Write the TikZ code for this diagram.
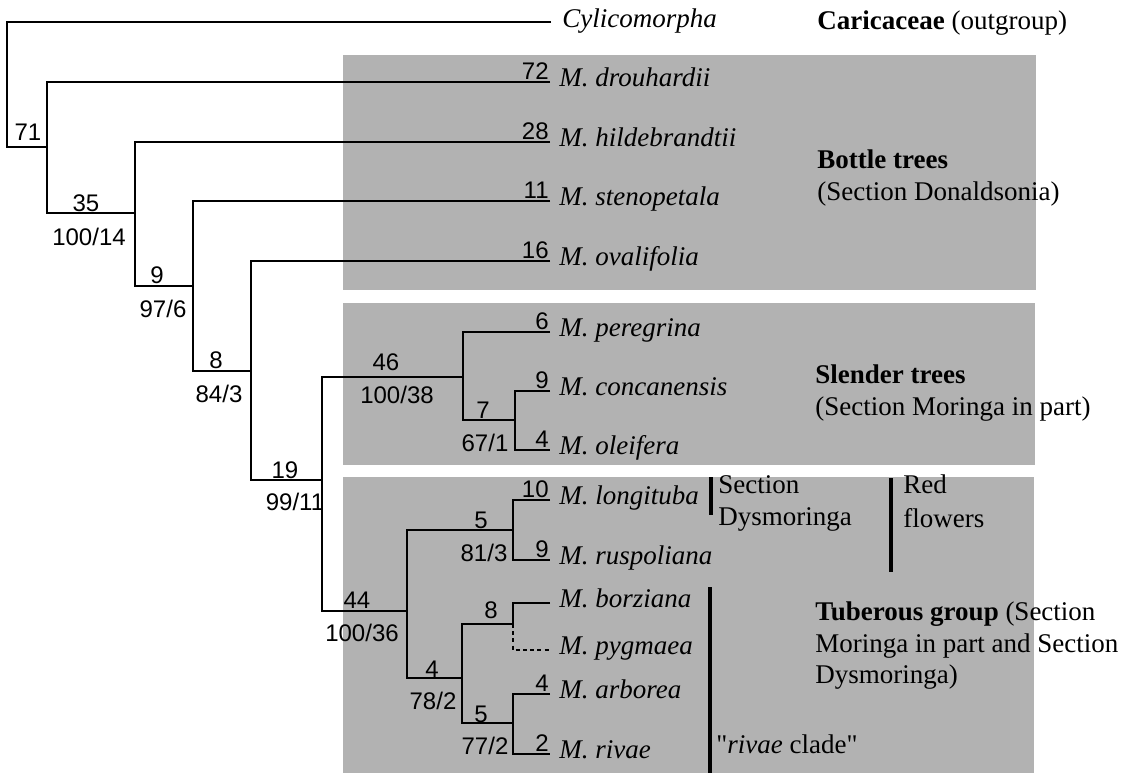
\documentclass[tikz,border=0pt]{standalone}
\usepackage{fontspec}
\setmainfont{Liberation Serif}
\newfontfamily\numfont{Liberation Sans}
\newfontfamily\rawserif[Ligatures=ResetAll]{Liberation Serif}
\begin{document}
\begin{tikzpicture}[x=0.5pt,y=-0.5pt,
  br/.style={line width=0.9pt, line join=miter},
  dbr/.style={br, dash pattern=on 2pt off 1.6pt},
  taxon/.style={font=\fontsize{13.5}{16}\selectfont\itshape, anchor=base west, inner sep=0pt},
  num/.style={font=\numfont\fontsize{12}{14}\selectfont, anchor=base, inner sep=0pt},
  tipnum/.style={num, anchor=base east},
  grp/.style={font=\fontsize{13.5}{16}\selectfont, anchor=base west, inner sep=0pt},
  grpbar/.style={line width=2pt},
  grpbox/.style={fill=black!30, draw=none}]
\useasboundingbox (0,0) rectangle (1125,773);
% shaded groups
\fill[grpbox] (343,55) rectangle (1036,290);
\fill[grpbox] (343,303) rectangle (1035,465);
\fill[grpbox] (343,477) rectangle (1034,773);
% internal nodes
\coordinate (n0) at (7,147);
\coordinate (nA) at (47,147);
\coordinate (nB) at (135,213);
\coordinate (nC) at (193,286);
\coordinate (nD) at (251,371);
\coordinate (nE) at (322,480);
\coordinate (n46) at (463,377);
\coordinate (n7) at (515,420);
\coordinate (n44) at (407,611);
\coordinate (n5a) at (513,530);
\coordinate (n4) at (462,678);
\coordinate (n8) at (513,624);
\coordinate (n5b) at (513,723);
% tips
\coordinate (tCyl) at (551,22);
\coordinate (tDro) at (550,82);
\coordinate (tHil) at (550,142);
\coordinate (tSte) at (550,201);
\coordinate (tOva) at (550,261);
\coordinate (tPer) at (550,332);
\coordinate (tCon) at (550,391);
\coordinate (tOle) at (550,450);
\coordinate (tLon) at (550,500);
\coordinate (tRus) at (550,560);
\coordinate (tBor) at (550,603);
\coordinate (tPyg) at (550,650);
\coordinate (tArb) at (550,694);
\coordinate (tRiv) at (550,754);
% branches
\draw[br] (tCyl) -| (n0) -- (nA);
\draw[br] (tDro) -| (nA) |- (nB);
\draw[br] (tHil) -| (nB) |- (nC);
\draw[br] (tSte) -| (nC) |- (nD);
\draw[br] (tOva) -| (nD) |- (nE);
\draw[br] (n46) -| (nE) |- (n44);
\draw[br] (tPer) -| (n46) |- (n7);
\draw[br] (tCon) -| (n7) |- (tOle);
\draw[br] (n5a) -| (n44) |- (n4);
\draw[br] (tLon) -| (n5a) |- (tRus);
\draw[br] (n8) -| (n4) |- (n5b);
\draw[br] (tBor) -| (n8);
\draw[dbr] (n8) |- (tPyg);
\draw[br] (tArb) -| (n5b) |- (tRiv);
% taxon names
\node[taxon] (lCyl) at (562,27) {Cylicomorpha};
\node[taxon] (lDro) at (559,86) {M. drouhardii};
\node[taxon] (lHil) at (559,146) {M. hildebrandtii};
\node[taxon] (lSte) at (559,205) {M. stenopetala};
\node[taxon] (lOva) at (559,265) {M. ovalifolia};
\node[taxon] (lPer) at (559,336) {M. peregrina};
\node[taxon] (lCon) at (559,395) {M. concanensis};
\node[taxon] (lOle) at (559,454) {M. oleifera};
\node[taxon] (lLon) at (559,504) {M. longituba};
\node[taxon] (lRus) at (559,564) {M. ruspoliana};
\node[taxon] (lBor) at (559,607) {M. borziana};
\node[taxon] (lPyg) at (559,654) {M. pygmaea};
\node[taxon] (lArb) at (559,698) {M. arborea};
\node[taxon] (lRiv) at (559,758) {M. rivae};
% tip numbers
\node[tipnum] (kDro) at (549,79) {72};
\node[tipnum] (kHil) at (549,139) {28};
\node[tipnum] (kSte) at (549,198) {11};
\node[tipnum] (kOva) at (549,258) {16};
\node[tipnum] (kPer) at (549,329) {6};
\node[tipnum] (kCon) at (549,388) {9};
\node[tipnum] (kOle) at (549,447) {4};
\node[tipnum] (kLon) at (549,497) {10};
\node[tipnum] (kRus) at (549,557) {9};
\node[tipnum] (kArb) at (549,691) {4};
\node[tipnum] (kRiv) at (549,751) {2};
% node labels above
\node[num] (aA) at (28,140) {71};
\node[num] (aB) at (86,211) {35};
\node[num] (aC) at (157,283) {9};
\node[num] (aD) at (216,368) {8};
\node[num] (aE) at (285,478) {19};
\node[num] (a46) at (386,370) {46};
\node[num] (a7) at (483,418) {7};
\node[num] (a44) at (357,608) {44};
\node[num] (a5a) at (481,528) {5};
\node[num] (a8) at (491,618) {8};
\node[num] (a4) at (432,677) {4};
\node[num] (a5b) at (481,722) {5};
% node labels below
\node[num] (bB) at (89,245) {100/14};
\node[num] (bC) at (163,317) {97/6};
\node[num] (bD) at (219,402) {84/3};
\node[num] (bE) at (295,510) {99/11};
\node[num] (b46) at (397,403) {100/38};
\node[num] (b7) at (485,451) {67/1};
\node[num] (b44) at (362,641) {100/36};
\node[num] (b5a) at (484,561) {81/3};
\node[num] (b4) at (433,709) {78/2};
\node[num] (b5b) at (485,754) {77/2};
% group bars
\draw[grpbar] (711,477) -- (711,515);
\draw[grpbar] (891,478) -- (891,572);
\draw[grpbar] (710,587) -- (710,773);
% group texts
\node[grp] (gCar) at (817,29) {\textbf{Caricaceae} (outgroup)};
\node[grp] (gBot1) at (817,168) {\textbf{Bottle trees}};
\node[grp] (gBot2) at (817,200) {(Section Donaldsonia)};
\node[grp] (gSle1) at (815,383) {\textbf{Slender trees}};
\node[grp] (gSle2) at (815,415) {(Section Moringa in part)};
\node[grp] (gDys1) at (718,493) {Section};
\node[grp] (gDys2) at (718,525) {Dysmoringa};
\node[grp] (gRed1) at (903,493) {Red};
\node[grp] (gRed2) at (903,527) {flowers};
\node[grp] (gTub1) at (815,620) {\textbf{Tuberous group} (Section};
\node[grp] (gTub2) at (815,652) {Moringa in part and Section};
\node[grp] (gTub3) at (815,683) {Dysmoringa)};
\node[grp] (gRiv) at (716,753) {{\rawserif"}\textit{rivae} clade{\rawserif"}};
\end{tikzpicture}
\end{document}
